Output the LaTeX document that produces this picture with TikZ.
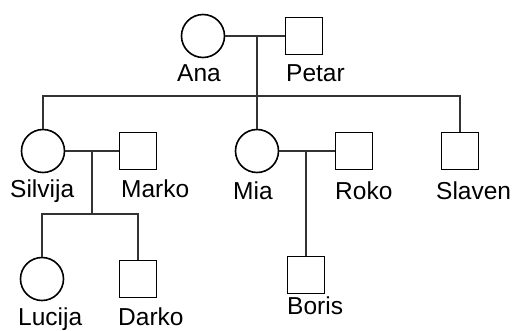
\documentclass[tikz,border=0pt]{standalone}
\usepackage{fontspec}
\setmainfont{Liberation Sans}
\tikzset{
femalebox/.style={draw, circle, line width=1.6pt, minimum size=43pt, inner sep=0pt},
malebox/.style={draw, rectangle, line width=1.6pt, minimum size=37pt, inner sep=0pt},
namelabel/.style={anchor=base west, inner sep=0pt, font=\fontsize{24.5}{29}\selectfont},
kinline/.style={line width=1.2pt, draw=black!80}
}

\begin{document}
\begin{tikzpicture}[x=1pt, y=-1pt]
\useasboundingbox (0,0) rectangle (517,331);
% first generation
\node[femalebox] (ana) at (203,36) {};
\node[malebox] (petar) at (304,36) {};
% second generation
\node[femalebox] (silvija) at (43,151) {};
\node[malebox] (marko) at (138,151) {};
\node[femalebox] (mia) at (257,151) {};
\node[malebox] (roko) at (354,151) {};
\node[malebox] (slaven) at (460,151) {};
% third generation
\node[femalebox] (lucija) at (42,279) {};
\node[malebox] (darko) at (138,279) {};
\node[malebox] (boris) at (306,275) {};

% names
\node[namelabel] (ananame) at (177,82) {Ana};
\node[namelabel] (petarname) at (286,82) {Petar};
\node[namelabel] (silvijaname) at (10,198) {Silvija};
\node[namelabel] (markoname) at (121,198) {Marko};
\node[namelabel] (mianame) at (233,200) {Mia};
\node[namelabel] (rokoname) at (335,200) {Roko};
\node[namelabel] (slavenname) at (436,200) {Slaven};
\node[namelabel] (lucijaname) at (18,326) {Lucija};
\node[namelabel] (darkoname) at (118,326) {Darko};
\node[namelabel] (borisname) at (287,314) {Boris};

% marriages and descent
\coordinate (anapetar) at (257,36);
\coordinate (sibbar) at (257,96);
\draw[kinline] (ana) -- (petar);
\draw[kinline] (anapetar) -- (sibbar);
\draw[kinline] (silvija) |- (sibbar) -| (slaven);
\draw[kinline] (sibbar) -- (mia);

\coordinate (silmarko) at (92,151);
\coordinate (kidbar) at (92,214);
\draw[kinline] (silvija) -- (marko);
\draw[kinline] (silmarko) -- (kidbar);
\draw[kinline] (lucija) |- (kidbar) -| (darko);

\coordinate (miaroko) at (306,151);
\draw[kinline] (mia) -- (roko);
\draw[kinline] (miaroko) -- (boris);
\end{tikzpicture}
\end{document}
